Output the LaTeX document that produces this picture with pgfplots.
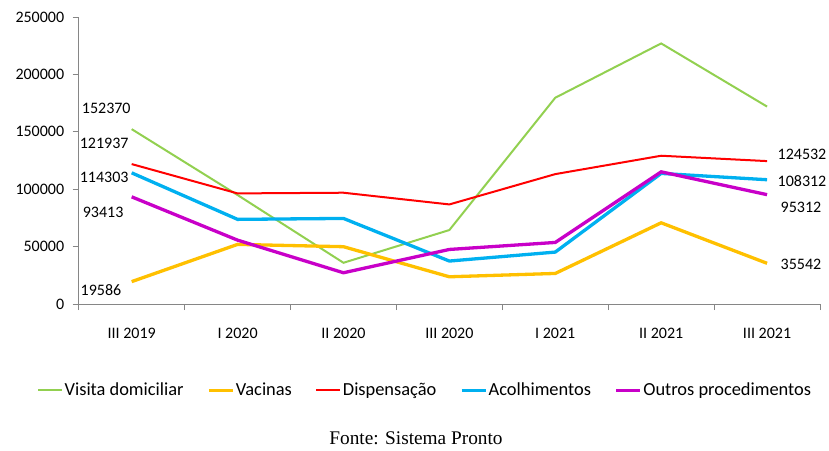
\documentclass[border=0pt]{standalone}
\usepackage{pgfplots}
\pgfplotsset{compat=1.18}
\usepackage{fontspec}
\setmainfont{Carlito}
\newfontfamily\capfont{Liberation Serif}
\definecolor{cgreen}{HTML}{92D050}
\definecolor{cyellow}{HTML}{FFC000}
\definecolor{cred}{HTML}{FF0000}
\definecolor{cblue}{HTML}{00B0F0}
\definecolor{cpurple}{HTML}{C800C8}
\definecolor{caxis}{HTML}{868686}
\begin{document}
\fontsize{16bp}{19bp}\selectfont
\begin{tikzpicture}[x=1bp,y=1bp]
\begin{axis}[
  name=ax,
  scale only axis,
  width=741bp, height=287bp,
  xmin=-0.5, xmax=6.5,
  ymin=0, ymax=250000,
  axis x line=bottom, axis y line=left,
  axis line style={caxis, line width=0.8bp, -},
  xtick={0,...,6},
  xticklabels={III 2019, I 2020, II 2020, III 2020, I 2021, II 2021, III 2021},
  major x tick style={draw=none},
  minor xtick={-0.5,0.5,...,6.5},
  minor x tick style={caxis, line width=0.8bp},
  minor tick length=6bp,
  tick align=outside,
  ytick={0,50000,...,250000},
  major y tick style={caxis, line width=0.8bp},
  major tick length=6bp,
  scaled y ticks=false,
  /pgf/number format/assume math mode=true,
  yticklabel style={/pgf/number format/fixed, /pgf/number format/1000 sep={}, font=\fontsize{16bp}{19bp}\selectfont, xshift=-3bp},
  xticklabel style={font=\fontsize{16bp}{19bp}\selectfont, yshift=-12bp},
  legend columns=5,
  legend style={draw=none, fill=none, at={(0.467,-0.30)}, anchor=center,
    font=\fontsize{18.4bp}{21bp}\selectfont,
    nodes={inner sep=1.5bp},
    /tikz/every even column/.append style={column sep=22bp},
    inner sep=0pt},
  legend image code/.code={\draw[#1] (0bp,0bp) -- (24bp,0bp);},
  clip=false,
]
\addplot[cgreen, line width=2bp] coordinates {(0,152370) (1,95000) (2,36000) (3,64500) (4,179700) (5,227000) (6,172000)};
\addlegendentry{Visita domiciliar}
\addplot[cyellow, line width=3.3bp] coordinates {(0,19586) (1,52000) (2,50000) (3,23800) (4,26700) (5,70800) (6,35542)};
\addlegendentry{Vacinas}
\addplot[cred, line width=2bp] coordinates {(0,121937) (1,96400) (2,97000) (3,86800) (4,113200) (5,129200) (6,124532)};
\addlegendentry{Dispensação}
\addplot[cblue, line width=3.3bp] coordinates {(0,114303) (1,73800) (2,74600) (3,37500) (4,45300) (5,113800) (6,108312)};
\addlegendentry{Acolhimentos}
\addplot[cpurple, line width=3.3bp] coordinates {(0,93413) (1,55700) (2,27300) (3,47600) (4,53700) (5,115200) (6,95312)};
\addlegendentry{Outros procedimentos}
\node at (axis cs:-0.24,170700) {152370};
\node at (axis cs:-0.26,140200) {121937};
\node at (axis cs:-0.26,110600) {114303};
\node at (axis cs:-0.27,80100) {93413};
\node at (axis cs:-0.29,12200) {19586};
\node at (axis cs:6.33,130700) {124532};
\node at (axis cs:6.33,107300) {108312};
\node at (axis cs:6.32,84600) {95312};
\node at (axis cs:6.32,34800) {35542};
\node[font=\capfont\fontsize{19.3bp}{22bp}\selectfont] at (axis description cs:0.455,-0.467) {Fonte: Sistema Pronto};
\end{axis}
\pgfresetboundingbox
\path[use as bounding box] ([xshift=-78.7bp,yshift=17bp]ax.north west) rectangle ([xshift=9bp,yshift=-146bp]ax.south east);
\end{tikzpicture}
\end{document}
